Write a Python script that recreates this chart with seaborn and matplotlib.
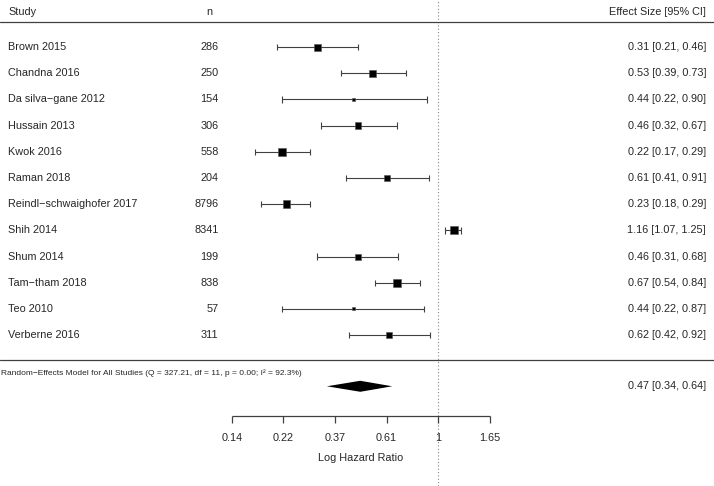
import numpy as np
import pandas as pd
import matplotlib
matplotlib.use("Agg")
import matplotlib.pyplot as plt
import matplotlib.transforms as mtransforms
import seaborn as sns

# ---- data ----
studies = ["Brown 2015", "Chandna 2016", "Da silva\u2212gane 2012", "Hussain 2013",
           "Kwok 2016", "Raman 2018", "Reindl\u2212schwaighofer 2017", "Shih 2014",
           "Shum 2014", "Tam\u2212tham 2018", "Teo 2010", "Verberne 2016"]
n_values = [286, 250, 154, 306, 558, 204, 8796, 8341, 199, 838, 57, 311]
hr = [0.31, 0.53, 0.44, 0.46, 0.22, 0.61, 0.23, 1.16, 0.46, 0.67, 0.44, 0.62]
ci_low = [0.21, 0.39, 0.22, 0.32, 0.17, 0.41, 0.18, 1.07, 0.31, 0.54, 0.22, 0.42]
ci_high = [0.46, 0.73, 0.90, 0.67, 0.29, 0.91, 0.29, 1.25, 0.68, 0.84, 0.87, 0.92]
weights = [7, 7, 3, 6.5, 7.5, 6, 7.5, 8, 6, 7.5, 3, 6]  # relative marker size
re_est, re_low, re_high = 0.47, 0.34, 0.64
re_label = ("Random\u2212Effects Model for All Studies "
            "(Q = 327.21, df = 11, p = 0.00; I\u00b2 = 92.3%)")
tick_logs = [-2, -1.5, -1, -0.5, 0, 0.5]
tick_labels = ["0.14", "0.22", "0.37", "0.61", "1", "1.65"]
xlabel = "Log Hazard Ratio"

df = pd.DataFrame({"study": studies, "n": n_values, "hr": hr,
                   "lo": ci_low, "hi": ci_high, "w": weights})
df["row"] = np.arange(1, len(df) + 1)

# ---- figure ----
sns.set_style("white")
plt.rcParams["font.family"] = ["Liberation Sans", "DejaVu Sans"]
fig = plt.figure(figsize=(7.14, 4.86), dpi=100)
ax = fig.add_axes([0, 0, 1, 1])
ax.set_xscale("log")
ax.set_xlim(np.exp(-4.243), np.exp(2.669))
ax.set_ylim(17.756, -0.794)
ax.axis("off")

fs = 7.8
lc = "#404040"
blend = mtransforms.blended_transform_factory(ax.transAxes, ax.transData)
W = 714.0

# CI lines and caps
cap = 0.12
ax.hlines(df["row"], df["lo"], df["hi"], color=lc, lw=0.8)
ax.vlines(df["lo"], df["row"] - cap, df["row"] + cap, color=lc, lw=0.8)
ax.vlines(df["hi"], df["row"] - cap, df["row"] + cap, color=lc, lw=0.8)

# point estimates
sizes = (df["w"] * 0.72) ** 2
sns.scatterplot(data=df, x="hr", y="row", marker="s", color="black",
                s=sizes, edgecolor="#555555", linewidth=0.4, ax=ax,
                legend=False, zorder=3)

# reference line at 1
ax.axvline(1, color="#888888", lw=0.8, ls=(0, (1, 2)))

# separators
ax.axhline(0.057, color=lc, lw=0.9)
ax.axhline(12.96, color=lc, lw=0.9)

# headers
ax.text(8 / W, -0.337, "Study", transform=blend, ha="left", va="center", fontsize=fs)
ax.text(209.5 / W, -0.337, "n", transform=blend, ha="center", va="center", fontsize=fs)
ax.text(706 / W, -0.337, "Effect Size [95% CI]", transform=blend, ha="right",
        va="center", fontsize=fs)

for _, r in df.iterrows():
    ax.text(8 / W, r["row"], r["study"], transform=blend, ha="left", va="center", fontsize=fs)
    ax.text(218.5 / W, r["row"], str(r["n"]), transform=blend, ha="right",
            va="center", fontsize=fs)
    ax.text(706 / W, r["row"], f"{r['hr']:.2f} [{r['lo']:.2f}, {r['hi']:.2f}]",
            transform=blend, ha="right", va="center", fontsize=fs)

# RE model
yd = 13.95
h = 0.21
ax.fill([re_low, re_est, re_high, re_est], [yd, yd - h, yd, yd + h],
        color="black", lw=0)
ax.text(1 / W, 13.44, re_label, transform=blend, ha="left", va="center", fontsize=6.05)
ax.text(706 / W, yd, f"{re_est:.2f} [{re_low:.2f}, {re_high:.2f}]",
        transform=blend, ha="right", va="center", fontsize=fs)

# custom x axis
ya = 15.08
tks = np.exp(tick_logs)
ax.hlines(ya, tks[0], tks[-1], color=lc, lw=0.9)
ax.vlines(tks, ya, ya + 0.27, color=lc, lw=0.9)
for t, lab in zip(tks, tick_labels):
    ax.text(t, 15.92, lab, ha="center", va="center", fontsize=fs)
ax.text(np.exp(-0.75), 16.69, xlabel, ha="center", va="center", fontsize=fs)

fig.savefig("out.png", dpi=100, facecolor="white")
